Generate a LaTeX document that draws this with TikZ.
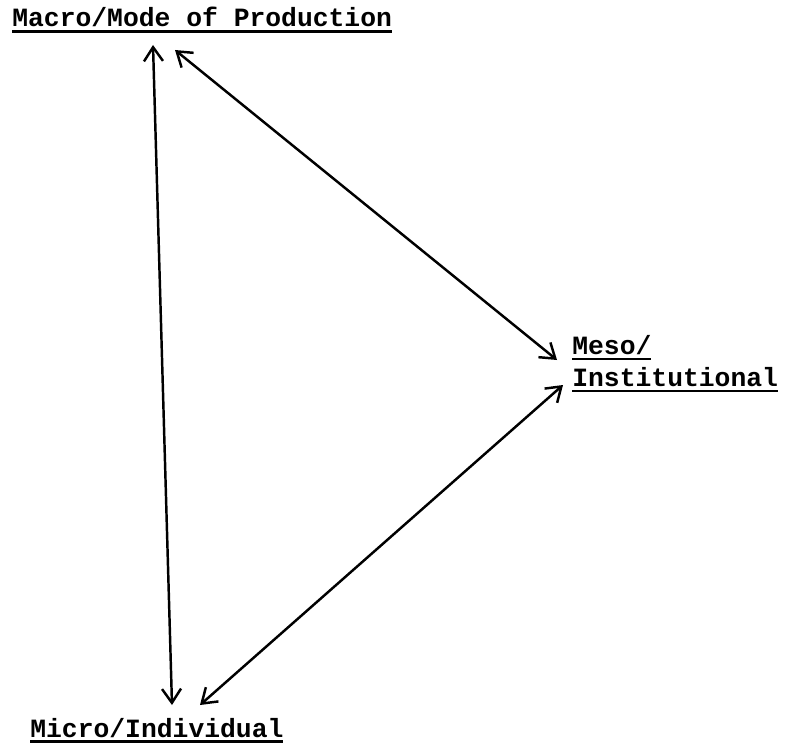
\documentclass[tikz,border=0pt]{standalone}
\usepackage{fontspec}
\setmonofont{Liberation Mono}
\usetikzlibrary{arrows.meta, positioning, calc}
\tikzset{
    % Underlined typewriter labels
    level label/.style={
        inner sep=0pt,
        align=left,
        font=\fontsize{15}{18.2}\selectfont\ttfamily\bfseries
    },
    % Double headed open arrows
    biarrow style/.style={
        {Straight Barb[length=0.28cm,width=0.38cm]}-{Straight Barb[length=0.28cm,width=0.38cm]},
        line width=1.4pt,
        black
    }
}
\newcommand{\ulabel}[1]{\setbox0\hbox{#1}\rlap{\rule[-3.2pt]{\wd0}{1.3pt}}\box0}
\begin{document}
\begin{tikzpicture}
        \useasboundingbox (0,0) rectangle (15.8,15);

        % Levels
        \node[level label, anchor=base west] (macro) at (0.24, 14.46) {\ulabel{Macro/Mode of Production}};
        \node[level label, anchor=north west] (meso) at (11.44, 8.3) {\ulabel{Meso/}\\\ulabel{Institutional}};
        \node[level label, anchor=base west] (micro) at (0.6, 0.26) {\ulabel{Micro/Individual}};

        % Arrow ends
        \coordinate (macro-v) at (3.06, 14.1);
        \coordinate (macro-d) at (3.5, 14.0);
        \coordinate (micro-v) at (3.44, 0.9);
        \coordinate (micro-d) at (4.0, 0.9);
        \coordinate (meso-top) at (11.14, 7.8);
        \coordinate (meso-bot) at (11.26, 7.3);

        % Links between levels
        \draw[biarrow style] (macro-v) -- (micro-v);
        \draw[biarrow style] (macro-d) -- (meso-top);
        \draw[biarrow style] (micro-d) -- (meso-bot);
\end{tikzpicture}
\end{document}
